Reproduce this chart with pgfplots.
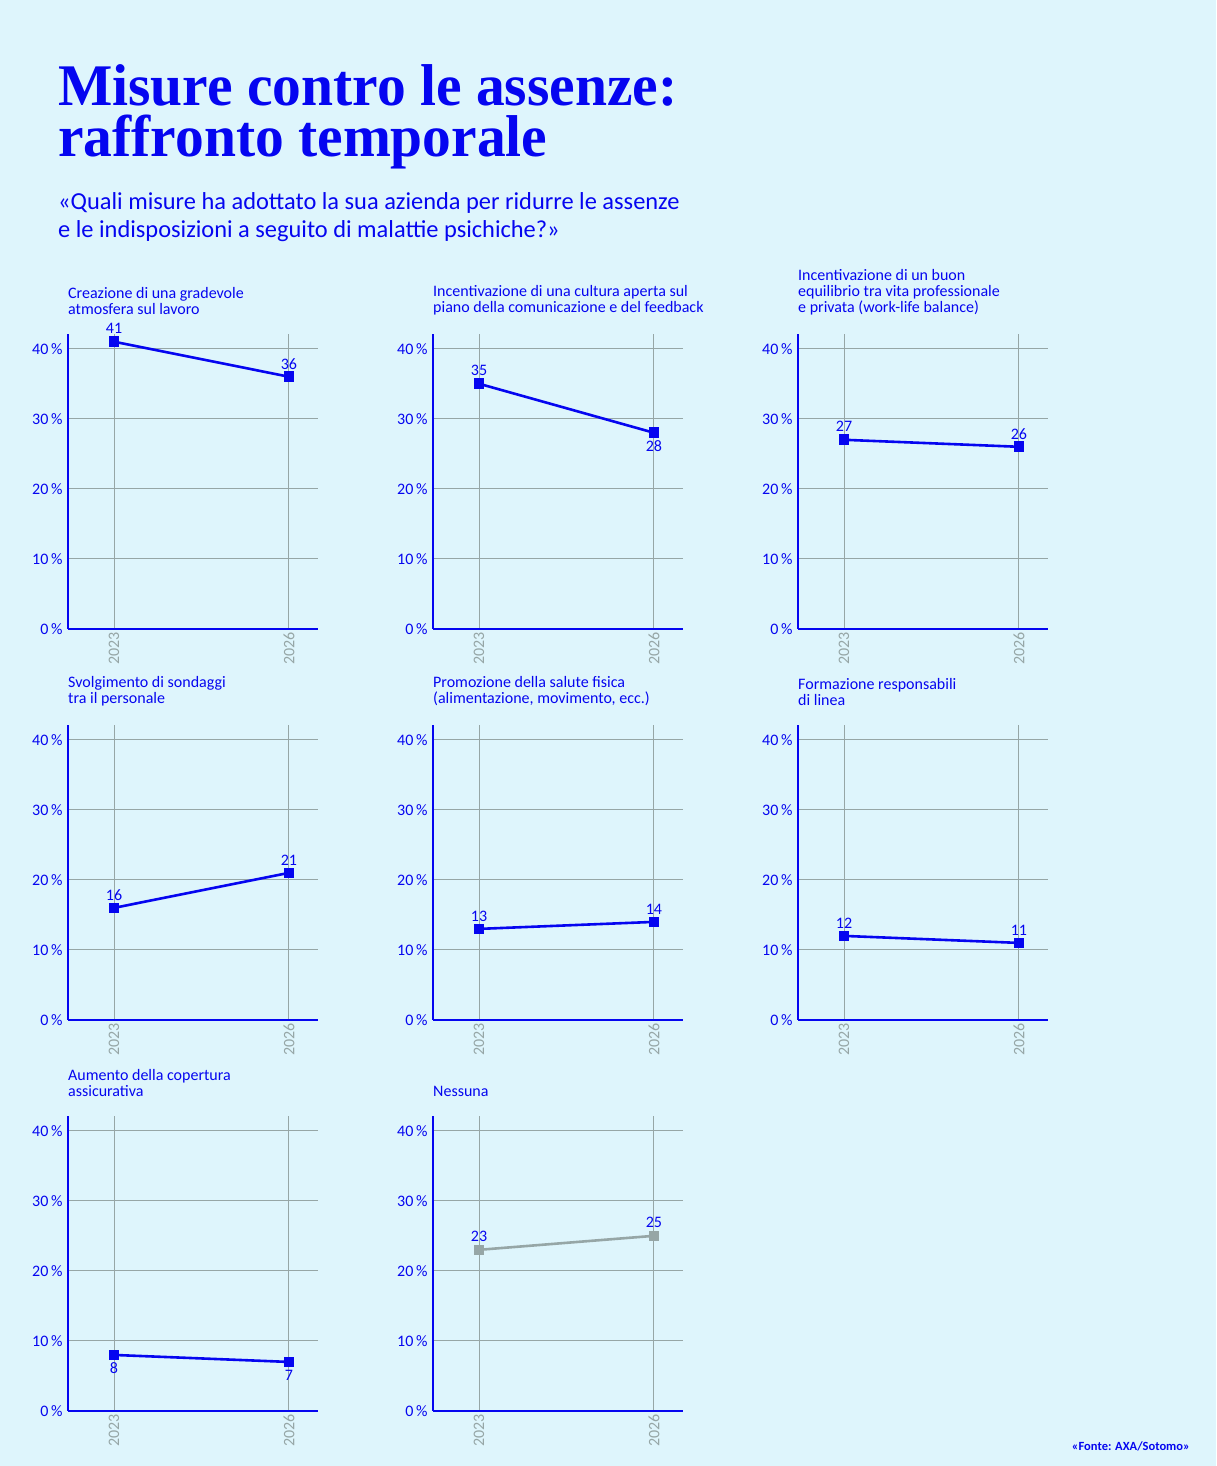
\documentclass[border=0pt]{standalone}
\usepackage{pgfplots}
\pgfplotsset{compat=1.18}
\usepackage{fontspec}
\setmainfont{Carlito}
\newfontfamily\titlefont{Liberation Serif}
\definecolor{cblue}{RGB}{5,5,240}
\definecolor{cbg}{RGB}{222,245,252}
\definecolor{cgray}{RGB}{150,166,166}
\definecolor{cgrid}{RGB}{150,166,166}

\pgfplotsset{
  panelaxis/.style={
  anchor=south west,
  scale only axis, width=250pt, height=295pt,
  xmin=-0.263, xmax=1.166, ymin=0, ymax=42.1,
  axis x line*=bottom, axis y line*=left,
  axis line style={cblue, line width=1.4pt, -},
  xtick={0,1}, xticklabels={2023,2026},
  ytick={0,10,20,30,40},
  major tick length=0pt,
  grid=major, grid style={cgrid, line width=1pt},
  yticklabel={\pgfmathprintnumber{\tick}\,\%},
  /pgf/number format/assume math mode=true,
  ticklabel style={font=\fontsize{16}{18}\selectfont},
  yticklabel style={cblue, xshift=-2pt},
  xticklabel style={cgray, rotate=90, anchor=east},
  clip=false,
  },
  lineplot/.style={line width=2.6pt, mark=square*, mark size=4.8pt, mark options={line width=0pt}},
  lab/.style={draw=none, nodes near coords, point meta=y,
    every node near coord/.append style={cblue, font=\fontsize{16}{18}\selectfont, inner sep=2pt}},
}

% #1 x, #2 y, #3 title, #4 v2023, #5 v2026, #6 shift2023, #7 shift2026, #8 colour
\newcommand{\panel}[8]{%
\begin{axis}[panelaxis, at={(#1pt,#2pt)}]
\addplot[#8, lineplot] coordinates {(0,#4) (1,#5)};
\addplot[lab, nodes near coords align={center}, every node near coord/.append style={yshift=#6pt}] coordinates {(0,#4)};
\addplot[lab, nodes near coords align={center}, every node near coord/.append style={yshift=#7pt}] coordinates {(1,#5)};
\end{axis}
\node[anchor=south west, inner sep=0pt, align=left, text=cblue, font=\fontsize{16}{16}\selectfont] at (#1pt,#2pt+314pt) {#3};
}

\begin{document}
\begin{tikzpicture}
\fill[cbg] (0pt,0pt) rectangle (1216pt,1466pt);
\node[anchor=base west, inner sep=0pt, text=cblue] at (58pt,1309pt) {\scalebox{0.975}[1]{\titlefont\bfseries\fontsize{59}{52}\selectfont\begin{tabular}[b]{@{}l@{}}Misure contro le assenze:\\[-6pt]raffronto temporale\end{tabular}}};
\node[anchor=base west, inner sep=0pt, text=cblue, font=\fontsize{24.4}{28}\selectfont] at (58pt,1256pt) {«Quali misure ha adottato la sua azienda per ridurre le assenze};
\node[anchor=base west, inner sep=0pt, text=cblue, font=\fontsize{24.4}{28}\selectfont] at (58pt,1228pt) {e le indisposizioni a seguito di malattie psichiche?»};

\panel{68}{837}{Creazione di una gradevole\\atmosfera sul lavoro}{41}{36}{13}{13}{cblue}
\panel{433}{837}{Incentivazione di una cultura aperta sul\\piano della comunicazione e del feedback}{35}{28}{13}{-13}{cblue}
\panel{798}{837}{Incentivazione di un buon\\equilibrio tra vita professionale\\e privata (work-life balance)}{27}{26}{13}{13}{cblue}
\panel{68}{446}{Svolgimento di sondaggi\\tra il personale}{16}{21}{13}{13}{cblue}
\panel{433}{446}{Promozione della salute fisica\\(alimentazione, movimento, ecc.)}{13}{14}{13}{13}{cblue}
\panel{798}{446}{Formazione responsabili\\di linea}{12}{11}{13}{13}{cblue}
\panel{68}{55}{Aumento della copertura\\assicurativa}{8}{7}{-13}{-13}{cblue}
\panel{433}{55}{Nessuna}{23}{25}{13}{13}{cgray}

\node[anchor=base east, inner sep=0pt, text=cblue, font=\bfseries\fontsize{12.5}{14}\selectfont] at (1190pt,15pt) {«Fonte: AXA/Sotomo»};
\end{tikzpicture}
\end{document}
